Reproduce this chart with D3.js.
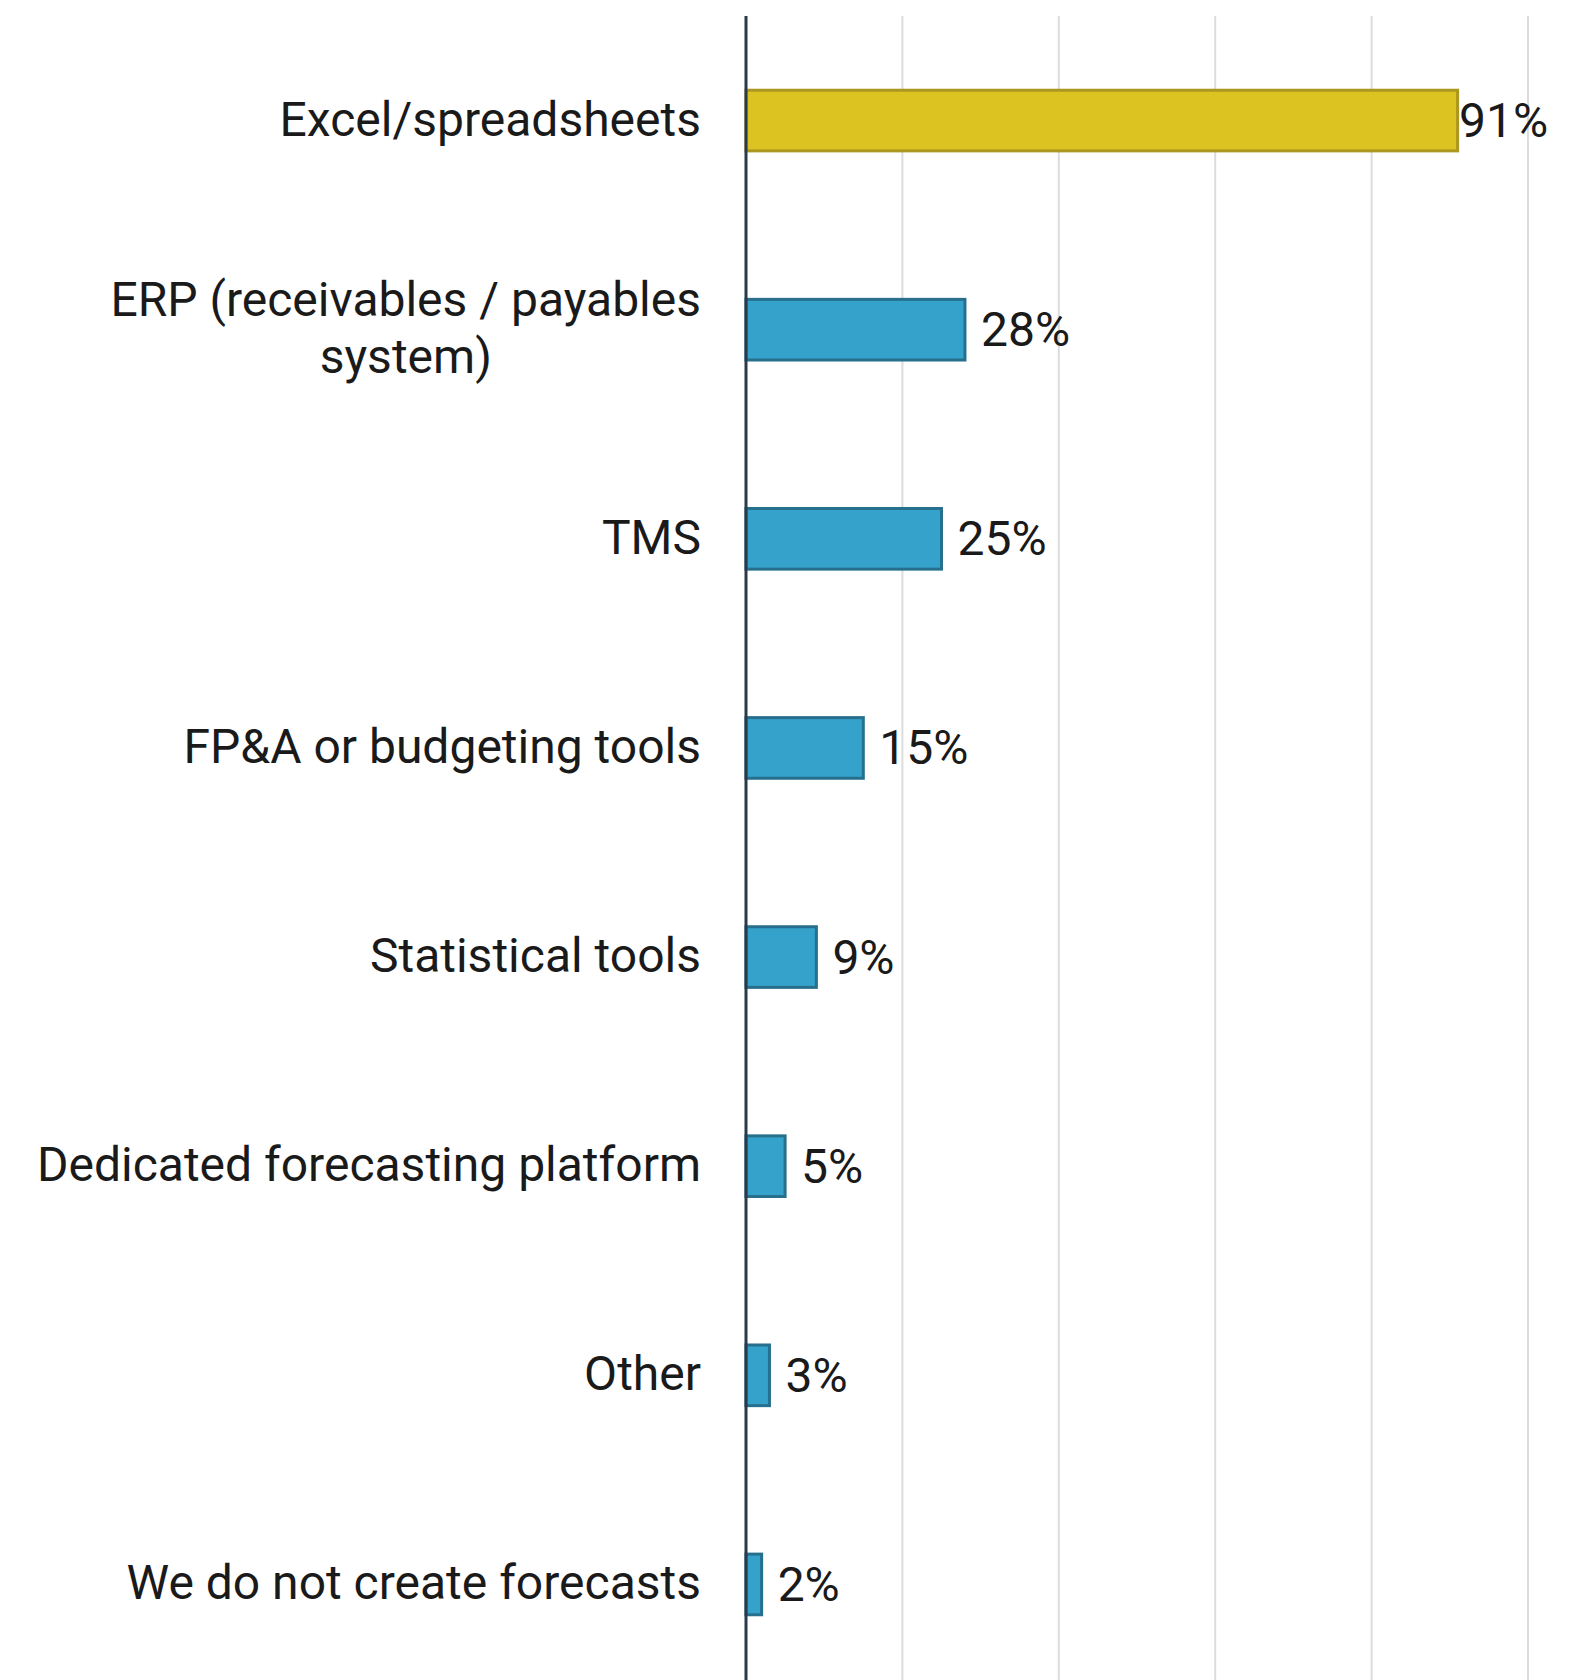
<!DOCTYPE html>
<html>
<head>
<meta charset="utf-8">
<script src="https://cdn.jsdelivr.net/npm/d3@7"></script>
<style>
  html, body { margin: 0; padding: 0; background: #ffffff; }
  svg { display: block; }
  text { font-family: Roboto, "Noto Sans", sans-serif; fill: #1a1a1a; }
</style>
</head>
<body>
<svg id="chart" width="1583" height="1680"></svg>
<script>
// Forecasting tools in use (share of respondents, %)
const categories = [
  "Excel/spreadsheets",
  "ERP (receivables / payables system)",
  "TMS",
  "FP&A or budgeting tools",
  "Statistical tools",
  "Dedicated forecasting platform",
  "Other",
  "We do not create forecasts"
];
const categoryLines = [
  ["Excel/spreadsheets"],
  ["ERP (receivables / payables", "system)"],
  ["TMS"],
  ["FP&A or budgeting tools"],
  ["Statistical tools"],
  ["Dedicated forecasting platform"],
  ["Other"],
  ["We do not create forecasts"]
];
const values = [91, 28, 25, 15, 9, 5, 3, 2];
const gridTicks = [0, 20, 40, 60, 80, 100];

const svg = d3.select("#chart");
const width = 1583, height = 1680;
const plotLeft = 746, plotRight = 1528, plotTop = 16, plotBottom = 1689;
const fontSize = 48;

const x = d3.scaleLinear().domain([0, 100]).range([plotLeft, plotRight]);
const y = d3.scaleBand().domain(categories).range([plotTop, plotBottom])
  .paddingInner(0.71).paddingOuter(0.355);

// vertical gridlines
svg.append("g").selectAll("line")
  .data(gridTicks.filter(d => d > 0))
  .join("line")
  .attr("x1", d => x(d)).attr("x2", d => x(d))
  .attr("y1", plotTop).attr("y2", height)
  .attr("stroke", "#dcdcdc").attr("stroke-width", 2);

// bars
svg.append("g").selectAll("rect")
  .data(categories)
  .join("rect")
  .attr("x", x(0))
  .attr("y", d => y(d))
  .attr("width", (d, i) => x(values[i]) - x(0))
  .attr("height", y.bandwidth())
  .attr("fill", (d, i) => i === 0 ? "#dcc322" : "#35a2cb")
  .attr("stroke", (d, i) => i === 0 ? "#ab9620" : "#26708d")
  .attr("stroke-width", 3);

// value labels, kept inside the plot area
svg.append("g").selectAll("text")
  .data(categories)
  .join("text")
  .attr("x", (d, i) => Math.min(x(values[i]) + 16, x(100) - 69))
  .attr("y", d => y(d) + y.bandwidth() / 2 + 16.5)
  .attr("font-size", fontSize)
  .text((d, i) => values[i] + "%");

// category labels (multi-line labels centred on their widest line)
const labelRight = 701;
const lineHeight = 57;
const labels = svg.append("g");
categories.forEach((c, i) => {
  const lines = categoryLines[i];
  const cy = y(c) + y.bandwidth() / 2;
  const t = labels.append("text").attr("font-size", fontSize);
  const n = lines.length;
  lines.forEach((ln, j) => {
    t.append("tspan")
      .attr("y", cy + 15 + (j - (n - 1) / 2) * lineHeight)
      .text(ln);
  });
  if (n === 1) {
    t.attr("text-anchor", "end").selectAll("tspan").attr("x", labelRight);
  } else {
    let w = 0;
    t.selectAll("tspan").each(function () { w = Math.max(w, this.getComputedTextLength()); });
    t.attr("text-anchor", "middle").selectAll("tspan").attr("x", labelRight - w / 2);
  }
});

// category axis line
svg.append("line")
  .attr("x1", x(0)).attr("x2", x(0))
  .attr("y1", plotTop).attr("y2", height)
  .attr("stroke", "#2b3a4a").attr("stroke-width", 3);
</script>
</body>
</html>
